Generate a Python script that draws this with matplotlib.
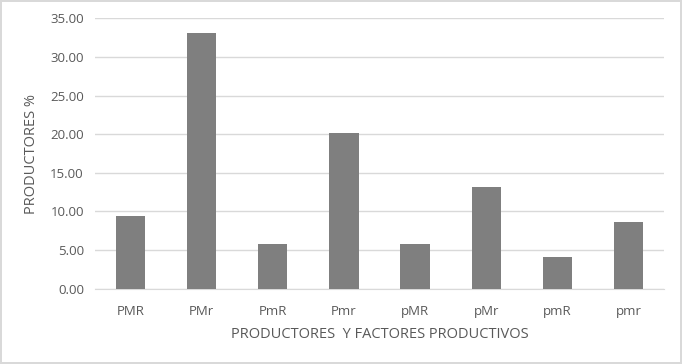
import matplotlib
matplotlib.use("Agg")
import matplotlib.pyplot as plt

# data
categories = ['PMR', 'PMr', 'PmR', 'Pmr', 'pMR', 'pMr', 'pmR', 'pmr']
values = [9.41, 33.14, 5.79, 20.15, 5.79, 13.12, 4.14, 8.63]
y_ticks = [0, 5, 10, 15, 20, 25, 30, 35]

plt.rcParams['font.family'] = ['Open Sans', 'DejaVu Sans']
text_color = '#595959'

fig = plt.figure(figsize=(6.82, 3.64), dpi=100)
fig.patch.set_facecolor('white')
fig.patch.set_edgecolor('#d9d9d9')
fig.patch.set_linewidth(1.5)

ax = fig.add_axes([95 / 682, 1 - 288.7 / 364, (664 - 95) / 682, (288.7 - 18.3) / 364])
ax.bar(range(len(categories)), values, width=0.41, color='#7f7f7f', zorder=3)

ax.set_xlim(-0.5, len(categories) - 0.5)
ax.set_ylim(0, 35)
ax.set_yticks(y_ticks)
ax.set_yticklabels([f'{v:.2f}' for v in y_ticks])
ax.set_xticks(range(len(categories)))
ax.set_xticklabels(categories)
ax.yaxis.grid(True, color='#d9d9d9', linewidth=1, zorder=0)
ax.tick_params(length=0, labelsize=9.5, labelcolor=text_color)
ax.tick_params(axis='x', pad=12)
ax.tick_params(axis='y', pad=8)
for side in ['top', 'right', 'left']:
    ax.spines[side].set_visible(False)
ax.spines['bottom'].set_color('#d9d9d9')

ax.set_xlabel('PRODUCTORES  Y FACTORES PRODUCTIVOS', fontsize=10.5, color=text_color, labelpad=6)
ax.set_ylabel('PRODUCTORES %', fontsize=10.5, color=text_color, labelpad=8)

fig.savefig('out.png', dpi=100)
